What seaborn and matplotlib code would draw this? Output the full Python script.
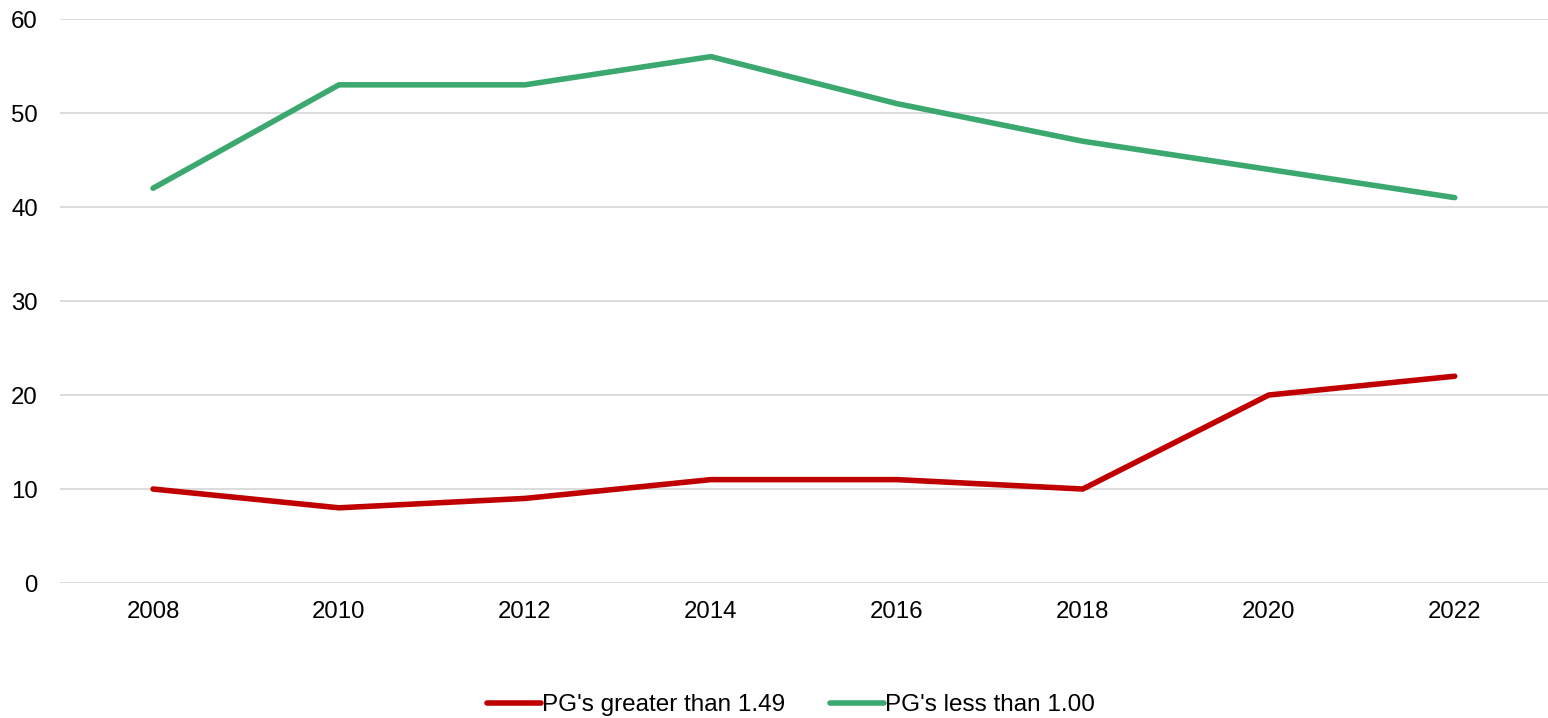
"""Line chart: PG counts above 1.49 and below 1.00 by year."""
import pandas as pd
import matplotlib.pyplot as plt
import seaborn as sns

years = [2008, 2010, 2012, 2014, 2016, 2018, 2020, 2022]
greater_149 = [10, 8, 9, 11, 11, 10, 20, 22]
less_100 = [42, 53, 53, 56, 51, 47, 44, 41]
series_names = ["PG's greater than 1.49", "PG's less than 1.00"]
colors = ["#C00000", "#3AA86F"]

df = pd.DataFrame({
    'Year': years * 2,
    'Value': greater_149 + less_100,
    'Series': [series_names[0]] * len(years) + [series_names[1]] * len(years),
})

sns.set_style('white')
plt.rcParams['font.family'] = ['Liberation Sans', 'DejaVu Sans']
plt.rcParams['font.size'] = 17
plt.rcParams['text.color'] = 'black'
plt.rcParams['xtick.color'] = 'black'
plt.rcParams['ytick.color'] = 'black'

fig = plt.figure(figsize=(15.48, 7.18), dpi=100)
ax = fig.add_axes([0.0388, 0.188, 0.961, 0.7855])

sns.lineplot(data=df, x='Year', y='Value', hue='Series', palette=colors,
             linewidth=4.0, ax=ax, legend=False)
for line in ax.get_lines():
    line.set_solid_capstyle('round')
    line.set_solid_joinstyle('round')

ax.set_xlim(2007, 2023)
ax.set_ylim(0, 60)
ax.set_xticks(years)
ax.set_yticks(range(0, 61, 10))
ax.set_xlabel('')
ax.set_ylabel('')
ax.yaxis.grid(True, color='#d9d9d9', linewidth=1.3)
ax.set_axisbelow(True)
for spine in ax.spines.values():
    spine.set_visible(False)
ax.tick_params(axis='x', length=0, pad=13, labelsize=17.3, labelcolor='black')
ax.tick_params(axis='y', length=0, pad=16, labelsize=17.3, labelcolor='black')

handles = [plt.Line2D([], [], color=c, linewidth=4.0, solid_capstyle='round')
           for c in colors]
fig.legend(handles, series_names, loc='center', bbox_to_anchor=(0.511, 0.018),
           ncol=2, frameon=False, handlelength=2.2, handletextpad=0.05,
           columnspacing=1.85, fontsize=17.5, borderpad=0, labelcolor='black')

plt.savefig('out.png', dpi=100)
